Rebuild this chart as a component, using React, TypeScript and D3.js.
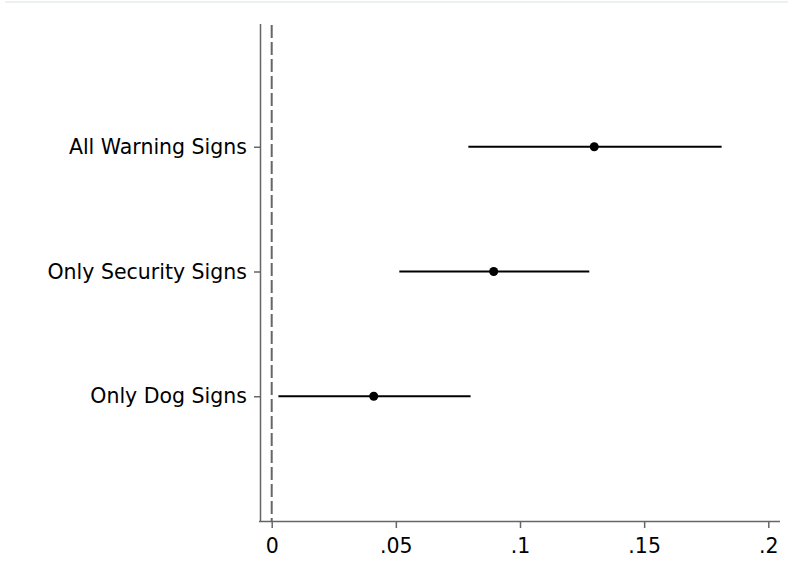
import React, { useEffect, useRef } from 'react';
import * as d3 from 'd3';

// coefficient estimates with confidence intervals
const categories = ['All Warning Signs', 'Only Security Signs', 'Only Dog Signs'];
const estimates = [0.1299, 0.0894, 0.0411];
const lowerCI = [0.0792, 0.0514, 0.0027];
const upperCI = [0.1812, 0.1279, 0.0801];
const xTicks = [0, 0.05, 0.1, 0.15, 0.2];
const xTickLabels = ['0', '.05', '.1', '.15', '.2'];

const W = 788;
const H = 577;
const margin = { top: 22, right: 8, bottom: 56, left: 260 };

export default function App() {
  const ref = useRef<SVGSVGElement>(null);

  useEffect(() => {
    const svg = d3.select(ref.current);
    svg.selectAll('*').remove();

    const x = d3.scaleLinear().domain([0, 0.2]).range([271.7, 768.3]);
    const y = d3.scaleLinear().domain([0, 4]).range([margin.top, H - margin.bottom]);
    const font = 'DejaVu Sans, Verdana, sans-serif';

    // faint top border
    svg.append('line')
      .attr('x1', 5).attr('x2', W).attr('y1', 2).attr('y2', 2)
      .attr('stroke', '#e4ecec').attr('stroke-width', 1.5);

    // dashed reference line at zero
    svg.append('line')
      .attr('x1', x(0)).attr('x2', x(0))
      .attr('y1', 25).attr('y2', y(4))
      .attr('stroke', '#666').attr('stroke-width', 2)
      .attr('stroke-dasharray', '13 4');

    // x axis
    const xAxis = svg.append('g')
      .attr('transform', `translate(0, ${y(4)})`)
      .call(d3.axisBottom(x).tickValues(xTicks)
        .tickFormat((d, i) => xTickLabels[i]).tickSizeOuter(0).tickSize(7).tickPadding(10));
    xAxis.select('.domain').attr('d', `M259,0.5H780`).attr('stroke', '#666').attr('stroke-width', 1.5);
    xAxis.selectAll('.tick line').attr('stroke', '#666').attr('stroke-width', 1.5);
    xAxis.selectAll('text').attr('font-family', font).attr('font-size', 20.5).attr('fill', '#000');

    // y axis
    const yAxis = svg.append('g').attr('transform', `translate(${margin.left}, 0)`)
      .call(d3.axisLeft(y).tickValues([1, 2, 3])
        .tickFormat((d) => categories[(d as number) - 1]).tickSizeOuter(0).tickSize(6).tickPadding(7));
    yAxis.select('.domain').attr('d', `M0.5,24V${y(4)}`).attr('stroke', '#666').attr('stroke-width', 1.5);
    yAxis.selectAll('.tick line').attr('stroke', '#666').attr('stroke-width', 1.5);
    yAxis.selectAll('text').attr('font-family', font).attr('font-size', 20.5).attr('fill', '#000');

    // confidence intervals
    svg.selectAll('.ci')
      .data(categories)
      .enter()
      .append('line')
      .attr('class', 'ci')
      .attr('x1', (d, i) => x(lowerCI[i]))
      .attr('x2', (d, i) => x(upperCI[i]))
      .attr('y1', (d, i) => y(i + 1))
      .attr('y2', (d, i) => y(i + 1))
      .attr('stroke', '#000').attr('stroke-width', 2);

    // point estimates
    svg.selectAll('.pt')
      .data(categories)
      .enter()
      .append('circle')
      .attr('class', 'pt')
      .attr('cx', (d, i) => x(estimates[i]))
      .attr('cy', (d, i) => y(i + 1))
      .attr('r', 4.5)
      .attr('fill', '#000');
  }, []);

  return (
    <svg ref={ref} width={W} height={H}
      style={{ position: 'absolute', left: 0, top: 0, background: '#fff' }} />
  );
}
